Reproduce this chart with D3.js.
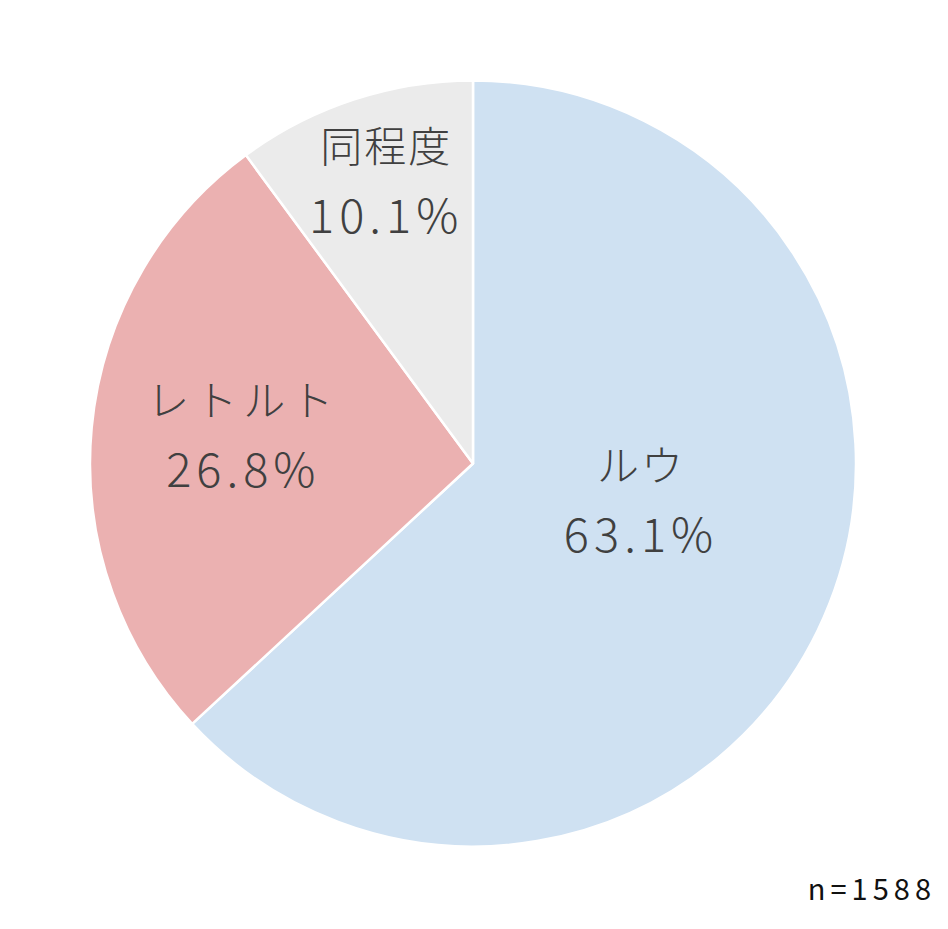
<!DOCTYPE html>
<html>
<head>
<meta charset="utf-8">
<script src="https://cdn.jsdelivr.net/npm/d3@7"></script>
<style>
html,body{margin:0;padding:0;background:#fff;}
svg{display:block;}
</style>
</head>
<body>
<script>
const categories = ["ルウ", "レトルト", "同程度"];
const values = [63.1, 26.8, 10.1];
const colors = ["#cfe1f2", "#ebb1b1", "#ebebeb"];
const sampleNote = "n=1588";

const W = 948, H = 929;
const cx = 473, cy = 463.5, R = 383;
// label nudges from centroid (px)
const labelNudge = [[-7.5, -42], [-39, -11.5], [-27, -101.6]];

const svg = d3.select("body").append("svg").attr("width", W).attr("height", H);
const g = svg.append("g").attr("transform", `translate(${cx},${cy})`);

const data = categories.map((c, i) => ({cat: c, val: values[i], color: colors[i], i}));
const pie = d3.pie().value(d => d.val).sort(null);
const arcs = pie(data);
const arc = d3.arc().innerRadius(0).outerRadius(R);
const labelArc = d3.arc().innerRadius(R * 0.5).outerRadius(R * 0.5);

g.selectAll("path.slice").data(arcs).join("path")
  .attr("class", "slice")
  .attr("d", arc)
  .attr("fill", d => d.data.color)
  .attr("stroke", "#ffffff")
  .attr("stroke-width", 2.5)
  .attr("stroke-linejoin", "round");

const lbl = g.selectAll("g.lbl").data(arcs).join("g")
  .attr("class", "lbl")
  .attr("transform", d => {
    const [x, y] = labelArc.centroid(d);
    const n = labelNudge[d.data.i];
    return `translate(${x + n[0]},${y + n[1]})`;
  });

lbl.append("text")
  .attr("text-anchor", "middle")
  .attr("dominant-baseline", "central")
  .attr("y", -36)
  .attr("font-family", "'Noto Sans CJK JP', 'Noto Sans', sans-serif")
  .attr("font-size", 42)
  .attr("font-weight", 300)
  .attr("letter-spacing", d => d.data.cat.length > 3 ? 6 : 2)
  .attr("fill", "#404040")
  .text(d => d.data.cat);

lbl.append("text")
  .attr("text-anchor", "middle")
  .attr("dominant-baseline", "central")
  .attr("y", 33)
  .attr("font-family", "'Noto Sans CJK JP', 'Noto Sans', sans-serif")
  .attr("font-size", 47)
  .attr("font-weight", 300)
  .attr("letter-spacing", 5)
  .attr("fill", "#404040")
  .text(d => d3.format(".1f")(d.data.val) + "%");

svg.append("text")
  .attr("x", 936)
  .attr("y", 900)
  .attr("text-anchor", "end")
  .attr("font-family", "'Noto Sans CJK JP', 'Noto Sans', sans-serif")
  .attr("font-size", 29)
  .attr("font-weight", 400)
  .attr("letter-spacing", 5)
  .attr("fill", "#111111")
  .text(sampleNote);
</script>
</body>
</html>
